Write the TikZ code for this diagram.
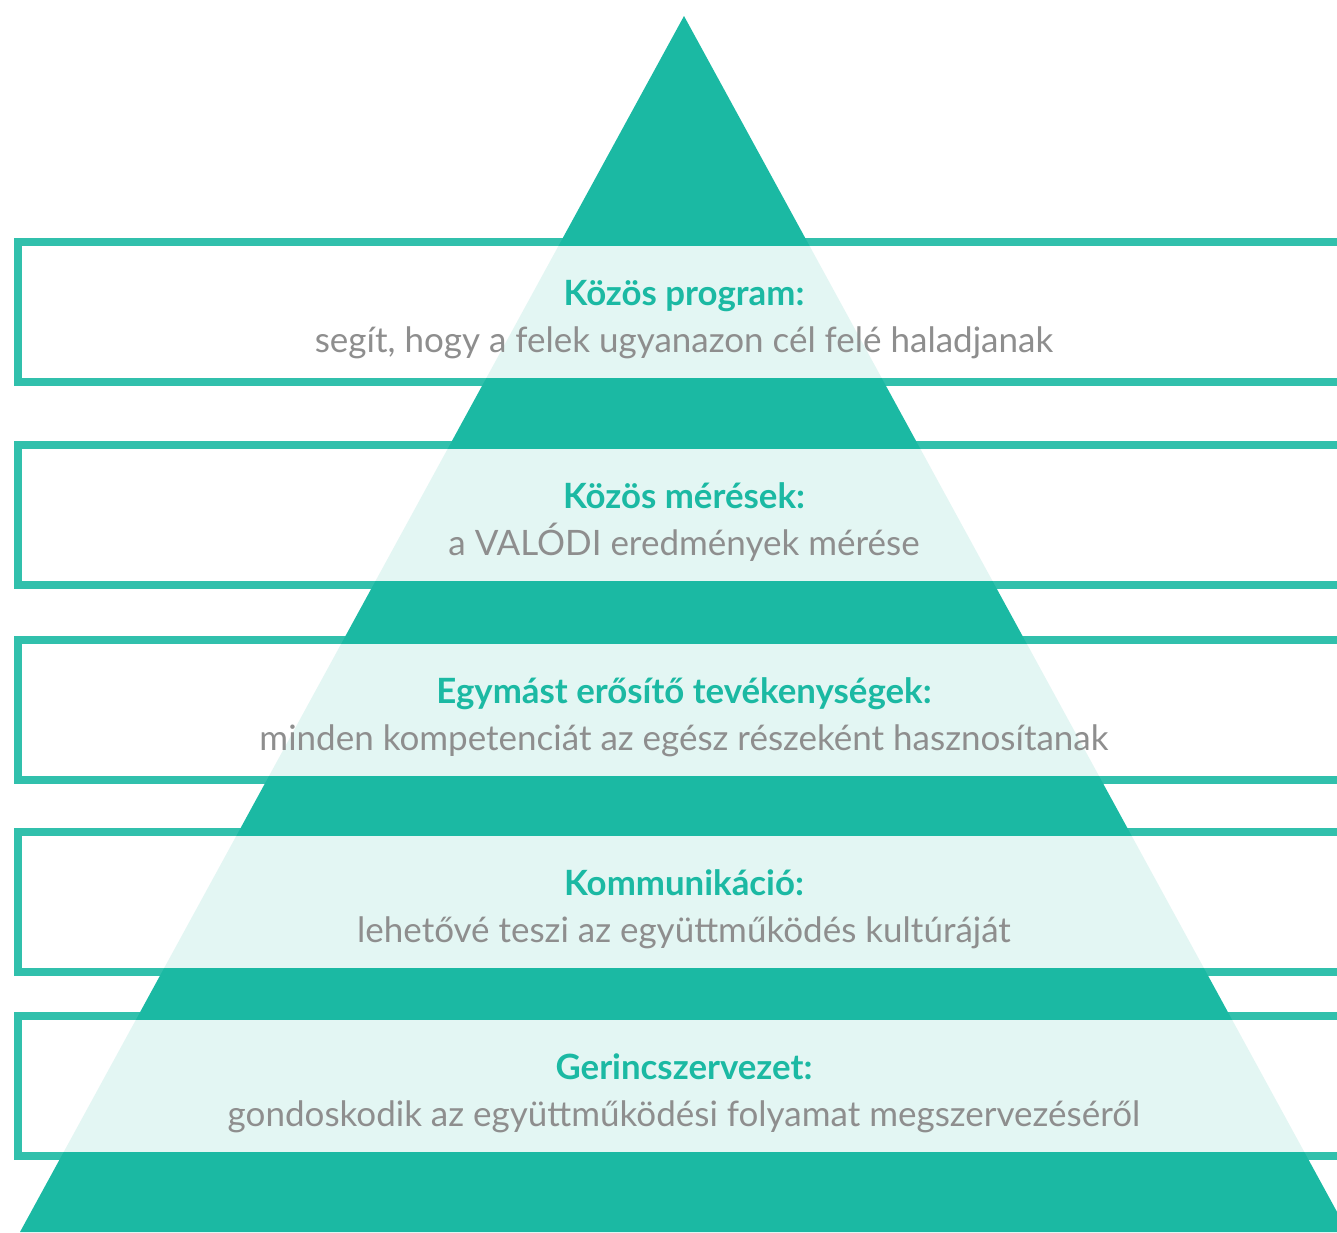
\documentclass[tikz,border=0pt]{standalone}
\usepackage{fontspec}
\setmainfont{Lato}
\definecolor{pyrteal}{HTML}{1BB9A3}
\definecolor{descgray}{HTML}{8E8E8E}
\tikzset{
  bandline/.style={draw=pyrteal, draw opacity=0.9, line width=8pt},
  bandfill/.style={fill=white, fill opacity=0.88},
  leveltitle/.style={anchor=base, text=pyrteal, font=\bfseries\fontsize{34.8}{38}\selectfont},
  leveldesc/.style={anchor=base, text=descgray, font=\fontsize{35}{38}\selectfont},
}
\begin{document}
\begin{tikzpicture}[x=1pt,y=-1pt]
	\useasboundingbox (0,0) rectangle (1337,1232);
	\clip (0,0) rectangle (1337,1232);

	% Triangle.
	\fill[pyrteal] (684,16) -- (1348,1232) -- (20,1232) -- cycle;

	% Bands.
	\fill[bandfill] (22,246)  rectangle (1345,378);
	\draw[bandline] (18,242)  rectangle (1345,382);
	\fill[bandfill] (22,449)  rectangle (1345,581);
	\draw[bandline] (18,445)  rectangle (1345,585);
	\fill[bandfill] (22,644)  rectangle (1345,776);
	\draw[bandline] (18,640)  rectangle (1345,780);
	\fill[bandfill] (22,836)  rectangle (1345,968);
	\draw[bandline] (18,832)  rectangle (1345,972);
	\fill[bandfill] (22,1020) rectangle (1345,1152);
	\draw[bandline] (18,1016) rectangle (1345,1156);

	% Level texts.
	\node[leveltitle] (program_t) at (684,305)  {Közös program:};
	\node[leveldesc]  (program_d) at (684,352)  {segít, hogy a felek ugyanazon cél felé haladjanak};
	\node[leveltitle] (meres_t)   at (684,508)  {Közös mérések:};
	\node[leveldesc]  (meres_d)   at (684,555)  {a VALÓDI eredmények mérése};
	\node[leveltitle] (tevek_t)   at (684,703)  {Egymást erősítő tevékenységek:};
	\node[leveldesc]  (tevek_d)   at (684,750)  {minden kompetenciát az egész részeként hasznosítanak};
	\node[leveltitle] (komm_t)    at (684,895)  {Kommunikáció:};
	\node[leveldesc]  (komm_d)    at (684,942)  {lehetővé teszi az együttműködés kultúráját};
	\node[leveltitle] (gerinc_t)  at (684,1079) {Gerincszervezet:};
	\node[leveldesc]  (gerinc_d)  at (684,1126) {gondoskodik az együttműködési folyamat megszervezéséről};

\end{tikzpicture}
\end{document}
